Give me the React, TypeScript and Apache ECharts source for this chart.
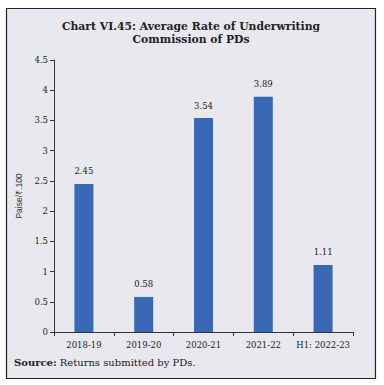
import React, { useEffect, useRef } from "react";
import * as echarts from "echarts";

const categories = ["2018-19", "2019-20", "2020-21", "2021-22", "H1: 2022-23"];
const values = [2.45, 0.58, 3.54, 3.89, 1.11];
const yTicks = [0, 0.5, 1, 1.5, 2, 2.5, 3, 3.5, 4, 4.5];

const FONT = "DejaVu Serif";

export default function App() {
  const ref = useRef<HTMLDivElement>(null);
  useEffect(() => {
    document.body.style.margin = "0";
    const chart = echarts.init(ref.current!, null, { renderer: "svg" });
    chart.setOption({
      animation: false,
      backgroundColor: "#ffffff",
      graphic: [
        {
          type: "rect",
          shape: { x: 6.5, y: 8.5, width: 369, height: 370 },
          style: { fill: "#e9e8ee", stroke: "#222", lineWidth: 1.2 },
          z: -10,
        },
        {
          type: "text",
          x: 191,
          y: 20,
          style: {
            text: "Chart VI.45: Average Rate of Underwriting\nCommission of PDs",
            font: `bold 10.8px '${FONT}'`,
            fill: "#222",
            align: "center",
            lineHeight: 13,
          },
        },
        {
          type: "text",
          x: 14,
          y: 357,
          style: {
            text: "{b|Source:} Returns submitted by PDs.",
            rich: {
              b: { fontWeight: "bold", fontFamily: FONT, fontSize: 10, fill: "#222" },
            },
            font: `10px '${FONT}'`,
            fill: "#222",
          },
        },
      ],
      grid: { left: 54, right: 31, top: 60, bottom: 53 },
      xAxis: {
        type: "category",
        data: categories,
        axisLine: { lineStyle: { color: "#333", width: 1 } },
        axisTick: { show: true, alignWithLabel: false, length: 4, lineStyle: { color: "#333" } },
        axisLabel: { color: "#222", fontFamily: FONT, fontSize: 8.5, margin: 8, interval: 0 },
      },
      yAxis: {
        type: "value",
        min: 0,
        max: 4.5,
        interval: 0.5,
        name: "Paise/₹.100",
        nameLocation: "middle",
        nameGap: 31,
        nameRotate: 90,
        nameTextStyle: { color: "#333", fontFamily: "Liberation Sans", fontSize: 8.5 },
        axisLine: { show: true, lineStyle: { color: "#333", width: 1 } },
        axisTick: { show: true, length: 4, lineStyle: { color: "#333" } },
        axisLabel: {
          color: "#222",
          fontFamily: FONT,
          fontSize: 8.5,
          margin: 6,
          formatter: (v: number) => (yTicks.includes(v) ? String(v) : ""),
        },
        splitLine: { show: false },
      },
      series: [
        {
          type: "bar",
          data: values,
          barWidth: 19,
          itemStyle: { color: "#3968b4" },
          label: {
            show: true,
            position: "top",
            distance: 8,
            color: "#222",
            fontFamily: FONT,
            fontSize: 8.5,
            formatter: (p: any) => p.value.toFixed(2),
          },
        },
      ],
    });
    return () => chart.dispose();
  }, []);
  return <div ref={ref} style={{ width: 384, height: 385 }} />;
}
